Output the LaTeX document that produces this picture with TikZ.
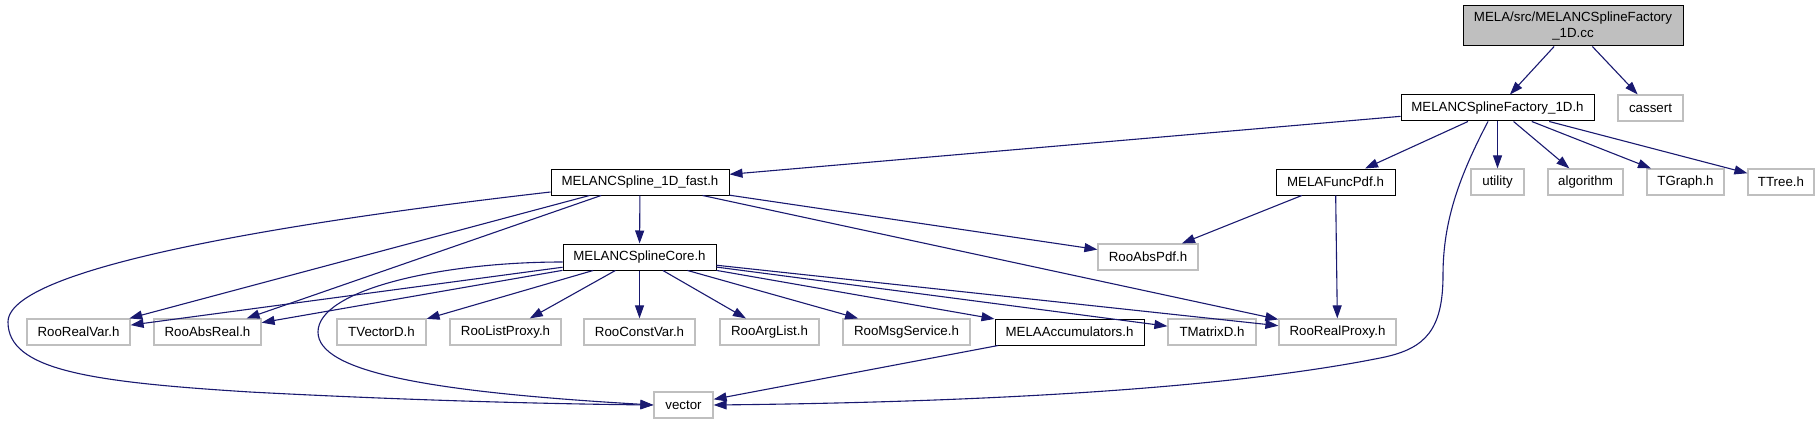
\documentclass[tikz,border=0pt]{standalone}
\usepackage{fontspec}
\setmainfont{Liberation Sans}
\usetikzlibrary{arrows.meta}
\definecolor{edgeblue}{HTML}{191970}
\definecolor{greyline}{HTML}{BFBFBF}
\definecolor{greyfill}{HTML}{BFBFBF}
\begin{document}
\begin{tikzpicture}[x=1pt,y=-1pt,
  box/.style={draw=black,line width=1pt,minimum height=26pt,inner xsep=0pt,inner ysep=0pt,anchor=center,
    font=\fontsize{13.3}{16}\selectfont,fill=white},
  docbox/.style={box,draw=black},
  extbox/.style={box,draw=greyline,line width=1.2pt},
  edge/.style={draw=edgeblue,line width=1.1pt,-{Triangle[length=13pt,width=9pt]}}]
\useasboundingbox[fill=white] (0,0) rectangle (1820,425);
% nodes
\node[docbox,fill=greyfill,minimum width=220pt,minimum height=40pt,align=center] (top) at (1573,26) {MELA/src/MELANCSplineFactory\\\_1D.cc};
\node[docbox,minimum width=193pt] (fac) at (1497.5,108) {MELANCSplineFactory\_1D.h};
\node[extbox,minimum width=65pt] (cas) at (1650.5,108) {cassert};
\node[docbox,minimum width=178pt] (fast) at (640,182) {MELANCSpline\_1D\_fast.h};
\node[docbox,minimum width=119pt] (fpdf) at (1335.5,182) {MELAFuncPdf.h};
\node[extbox,minimum width=53pt] (util) at (1497.5,182) {utility};
\node[extbox,minimum width=75pt] (algo) at (1585.5,182) {algorithm};
\node[extbox,minimum width=77pt] (tgraph) at (1685.5,182) {TGraph.h};
\node[extbox,minimum width=66pt] (ttree) at (1781,182) {TTree.h};
\node[docbox,minimum width=153pt] (core) at (639.5,257) {MELANCSplineCore.h};
\node[extbox,minimum width=100pt] (apdf) at (1148,257) {RooAbsPdf.h};
\node[extbox,minimum width=103pt] (rvar) at (78.5,332) {RooRealVar.h};
\node[extbox,minimum width=107pt] (areal) at (207.5,332) {RooAbsReal.h};
\node[extbox,minimum width=89pt] (tvec) at (381.5,332) {TVectorD.h};
\node[extbox,minimum width=111pt] (lprox) at (505.5,332) {RooListProxy.h};
\node[extbox,minimum width=111pt] (cvar) at (639.5,332) {RooConstVar.h};
\node[extbox,minimum width=99pt] (alist) at (769.5,332) {RooArgList.h};
\node[extbox,minimum width=127pt] (msg) at (906.5,332) {RooMsgService.h};
\node[docbox,minimum width=149pt] (acc) at (1069.5,332) {MELAAccumulators.h};
\node[extbox,minimum width=88pt] (tmat) at (1212,332) {TMatrixD.h};
\node[extbox,minimum width=117pt] (rprox) at (1337.5,332) {RooRealProxy.h};
\node[extbox,minimum width=59pt] (vec) at (683.5,405) {vector};
% edges
\draw[edge] (top) -- (fac);
\draw[edge] (top) -- (cas);
\draw[edge] (fac) -- (fast);
\draw[edge] (fac) -- (fpdf);
\draw[edge] (fac) -- (util);
\draw[edge] (fac) -- (algo);
\draw[edge] (fac) -- (tgraph);
\draw[edge] (fac) -- (ttree);
\draw[edge] ([xshift=-9.5pt]fac.south) .. controls (1460,175) and (1443,220) .. (1443,275)
   .. controls (1443,330) and (1425,348) .. (1385,357)
   .. controls (1200,395) and (900,403) .. (vec.east);
\draw[edge] (fast) -- (core);
\draw[edge] (fast) -- (apdf);
\draw[edge] (fast) -- (rprox);
\draw[edge] (fast) -- (rvar);
\draw[edge] (fast) -- (areal);
\draw[edge] ([yshift=-10pt]fast.west) .. controls (350,215) and (8,262) .. (8,322)
   .. controls (8,370) and (90,382) .. (250,392)
   .. controls (420,401) and (560,404) .. (vec.west);
\draw[edge] ([yshift=-5pt]core.west) .. controls (440,262) and (318,290) .. (318,332)
   .. controls (318,372) and (430,392) .. (vec.west);
\draw[edge] (core) -- (rvar);
\draw[edge] (core) -- (areal);
\draw[edge] (core) -- (tvec);
\draw[edge] (core) -- (lprox);
\draw[edge] (core) -- (cvar);
\draw[edge] (core) -- (alist);
\draw[edge] (core) -- (msg);
\draw[edge] (core) -- (acc);
\draw[edge] (core) -- (tmat);
\draw[edge] (core) -- (rprox);
\draw[edge] (fpdf) -- (apdf);
\draw[edge] (fpdf) -- (rprox);
\draw[edge] (acc) -- (vec);
\end{tikzpicture}
\end{document}
